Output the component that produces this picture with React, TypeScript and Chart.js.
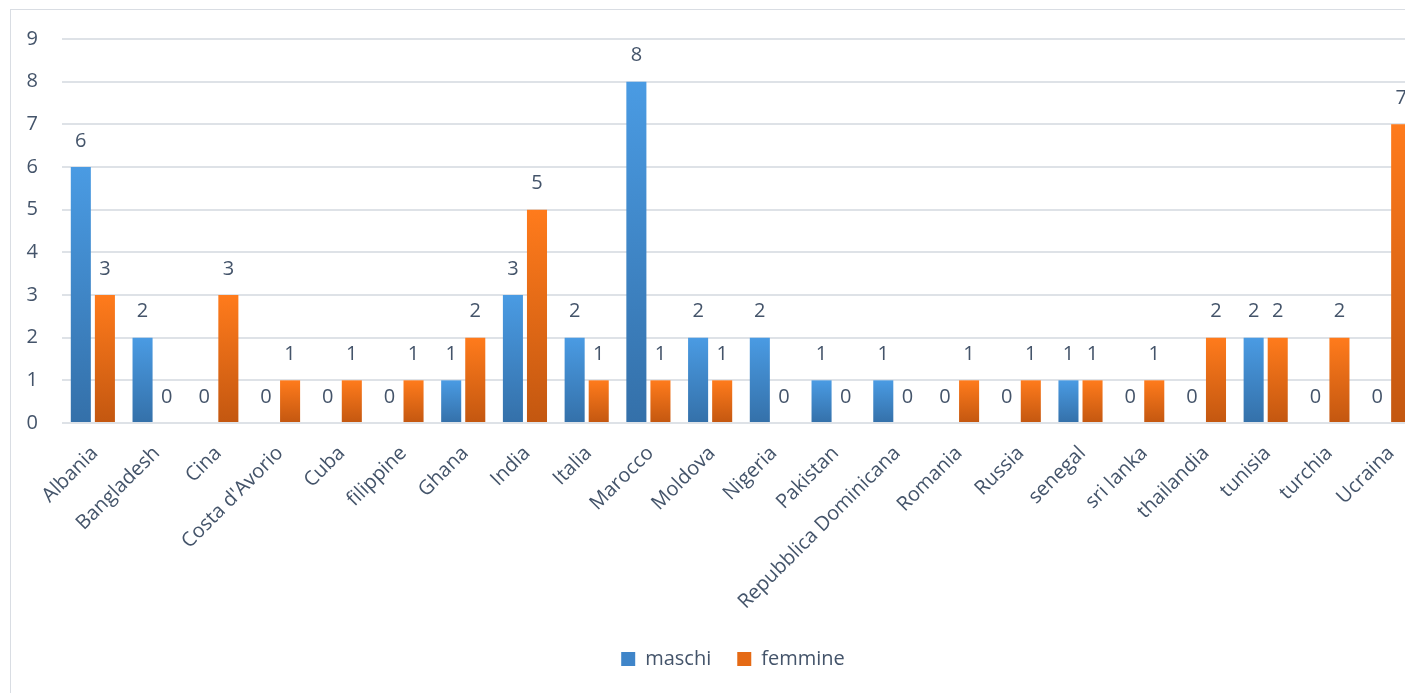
import React, { useEffect, useRef } from "react";
import { Chart, registerables } from "chart.js";

Chart.register(...registerables);

const categories = [
  "Albania", "Bangladesh", "Cina", "Costa d'Avorio", "Cuba", "filippine", "Ghana", "India",
  "Italia", "Marocco", "Moldova", "Nigeria", "Pakistan", "Repubblica Dominicana", "Romania",
  "Russia", "senegal", "sri lanka", "thailandia", "tunisia", "turchia", "Ucraina",
];
const maschi = [6, 2, 0, 0, 0, 0, 1, 3, 2, 8, 2, 2, 1, 1, 0, 0, 1, 0, 0, 2, 0, 0];
const femmine = [3, 0, 3, 1, 1, 1, 2, 5, 1, 1, 1, 0, 0, 0, 1, 1, 1, 1, 2, 2, 2, 7];
const yMax = 9;

const FONT = "'Open Sans', sans-serif";
const TEXT = "#44546A";

function gradientFill(light: string, dark: string) {
  return (ctx: any) => {
    const chart = ctx.chart;
    const y = chart.scales?.y;
    if (ctx.type !== "data" || !y) return dark;
    const v = ctx.raw as number;
    const top = y.getPixelForValue(v);
    const bottom = y.getPixelForValue(0);
    if (!isFinite(top) || !isFinite(bottom) || Math.abs(bottom - top) < 1) return dark;
    const g = chart.ctx.createLinearGradient(0, top, 0, bottom);
    g.addColorStop(0, light);
    g.addColorStop(1, dark);
    return g;
  };
}

const valueLabels = {
  id: "valueLabels",
  afterDatasetsDraw(chart: any) {
    const c = chart.ctx;
    c.save();
    c.font = `20px ${FONT}`;
    c.fillStyle = TEXT;
    c.textAlign = "center";
    c.textBaseline = "middle";
    chart.data.datasets.forEach((ds: any, i: number) => {
      const meta = chart.getDatasetMeta(i);
      meta.data.forEach((el: any, j: number) => {
        c.fillText(String(ds.data[j]), el.x, el.y - 26);
      });
    });
    c.restore();
  },
};

const axisLabels = {
  id: "axisLabels",
  afterDraw(chart: any) {
    const xs = chart.scales.x;
    const ys = chart.scales.y;
    const c = chart.ctx;
    c.save();
    c.font = `20px ${FONT}`;
    c.fillStyle = TEXT;
    // y tick labels
    c.textAlign = "right";
    c.textBaseline = "middle";
    ys.ticks.forEach((t: any) => {
      c.fillText(String(t.value), chart.chartArea.left - 24, ys.getPixelForValue(t.value));
    });
    // rotated category labels
    const labels = chart.data.labels as string[];
    labels.forEach((lab, i) => {
      const x = xs.getPixelForTick(i);
      c.save();
      c.translate(x + 2, xs.top + 27);
      c.rotate(-Math.PI / 4);
      c.fillText(lab, 0, 0);
      c.restore();
    });
    c.restore();
  },
};

export default function App() {
  const ref = useRef<HTMLCanvasElement | null>(null);
  useEffect(() => {
    if (!ref.current) return;
    const chart = new Chart(ref.current, {
      type: "bar",
      data: {
        labels: categories,
        datasets: [
          {
            label: "maschi",
            data: maschi,
            backgroundColor: gradientFill("#4A9BE3", "#3470A9"),
            categoryPercentage: 0.78,
            barPercentage: 0.833,
          },
          {
            label: "femmine",
            data: femmine,
            backgroundColor: gradientFill("#FF7B1C", "#C35710"),
            categoryPercentage: 0.78,
            barPercentage: 0.833,
          },
        ],
      },
      options: {
        animation: false,
        responsive: false,
        devicePixelRatio: 1,
        layout: { padding: { left: 35, right: 35, top: 29, bottom: 14 } },
        scales: {
          x: {
            grid: { display: false },
            border: { display: false },
            ticks: { display: false, autoSkip: false },
            afterFit(scale: any) {
              scale.height = 200;
              scale.paddingLeft = 0;
              scale.paddingRight = 0;
            },
          },
          y: {
            min: 0,
            max: yMax,
            border: { display: false },
            grid: { color: "#DEE2E7", lineWidth: 2, drawTicks: false },
            ticks: { stepSize: 1, display: false },
            afterFit(scale: any) {
              scale.width = 16;
              scale.paddingTop = 0;
              scale.paddingBottom = 0;
            },
          },
        },
        plugins: {
          tooltip: { enabled: false },
          legend: {
            position: "bottom",
            labels: {
              color: TEXT,
              font: { family: FONT, size: 20 },
              boxWidth: 14,
              boxHeight: 14,
              padding: 26,
              generateLabels(chart: any) {
                const items = Chart.defaults.plugins.legend.labels.generateLabels(chart);
                const solids = ["#3F85C9", "#E56A15"];
                return items.map((it: any, i: number) => ({
                  ...it,
                  fillStyle: solids[i],
                  strokeStyle: solids[i],
                  lineWidth: 0,
                }));
              },
            },
          },
        },
      },
      plugins: [valueLabels, axisLabels],
    });
    return () => chart.destroy();
  }, []);

  return (
    <div
      style={{
        position: "fixed",
        left: 0,
        top: 0,
        width: 1405,
        height: 693,
        overflow: "hidden",
        background: "#fff",
      }}
    >
      <div
        style={{
          position: "absolute",
          left: 10,
          top: 9,
          width: 1444,
          height: 700,
          border: "1px solid #D9DDE3",
        }}
      >
        <canvas ref={ref} width={1444} height={683} style={{ display: "block" }} />
      </div>
    </div>
  );
}
